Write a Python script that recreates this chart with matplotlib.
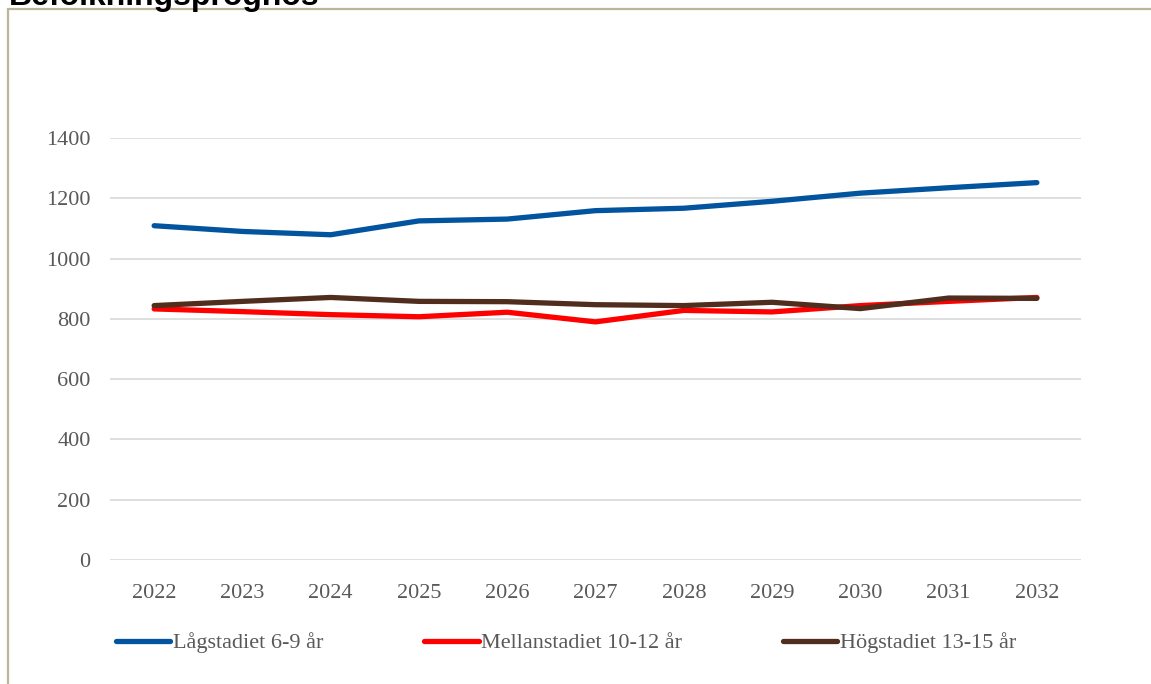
import matplotlib.pyplot as plt
from matplotlib.patches import Rectangle

years = ['2022', '2023', '2024', '2025', '2026', '2027', '2028', '2029', '2030', '2031', '2032']
lagstadiet = [1109, 1090, 1079, 1125, 1131, 1159, 1167, 1190, 1217, 1235, 1252]
mellanstadiet = [833, 824, 814, 807, 822, 790, 828, 823, 844, 858, 871]
hogstadiet = [844, 858, 871, 858, 857, 847, 844, 855, 834, 869, 868]
labels = ['Lågstadiet 6-9 år', 'Mellanstadiet 10-12 år', 'Högstadiet 13-15 år']
colors = ['#02549E', '#FF0000', '#512D1E']

W, H = 1151, 684
fig = plt.figure(figsize=(W / 100, H / 100), dpi=100)

# chart frame (cut at right/bottom like the screenshot)
fig.patches.append(Rectangle((8 / W, -0.1), 1.2, 1 - 9 / H + 0.1, transform=fig.transFigure,
                             fill=False, edgecolor='#BDB59A', linewidth=1.6))
# title is partly cut off at the top edge in the reference too
fig.text(9 / W, 1 - 5 / H, 'Befolkningsprognos', fontsize=23, fontweight='bold',
         family='Liberation Sans', va='baseline', ha='left')

ax = fig.add_axes([110 / W, 1 - 560 / H, (1081 - 110) / W, (560 - 138) / H])
x = range(len(years))
for vals, lab, c in zip([lagstadiet, mellanstadiet, hogstadiet], labels, colors):
    ax.plot(x, vals, color=c, linewidth=3.8, label=lab, solid_capstyle='round', solid_joinstyle='round')

ax.set_xlim(-0.5, len(years) - 0.5)
ax.set_ylim(0, 1400)
ax.set_yticks(range(0, 1401, 200))
ax.set_xticks(list(x))
ax.set_xticklabels(years)
ax.grid(axis='y', color='#D9D9D9', linewidth=1.2)
ax.set_axisbelow(True)
for s in ax.spines.values():
    s.set_visible(False)
ax.tick_params(length=0, labelsize=16, labelcolor='#595959')
ax.tick_params(axis='x', pad=17)
ax.tick_params(axis='y', pad=14)
for t in ax.get_xticklabels() + ax.get_yticklabels():
    t.set_family('Liberation Serif')

leg = fig.legend(loc='center left', bbox_to_anchor=(96 / W, 1 - 643 / H), ncol=3, frameon=False,
                 handlelength=2.45, handletextpad=0.1, columnspacing=4.55,
                 prop={'family': 'Liberation Serif', 'size': 16})
for t in leg.get_texts():
    t.set_color('#595959')

fig.savefig('out.png', dpi=100)
